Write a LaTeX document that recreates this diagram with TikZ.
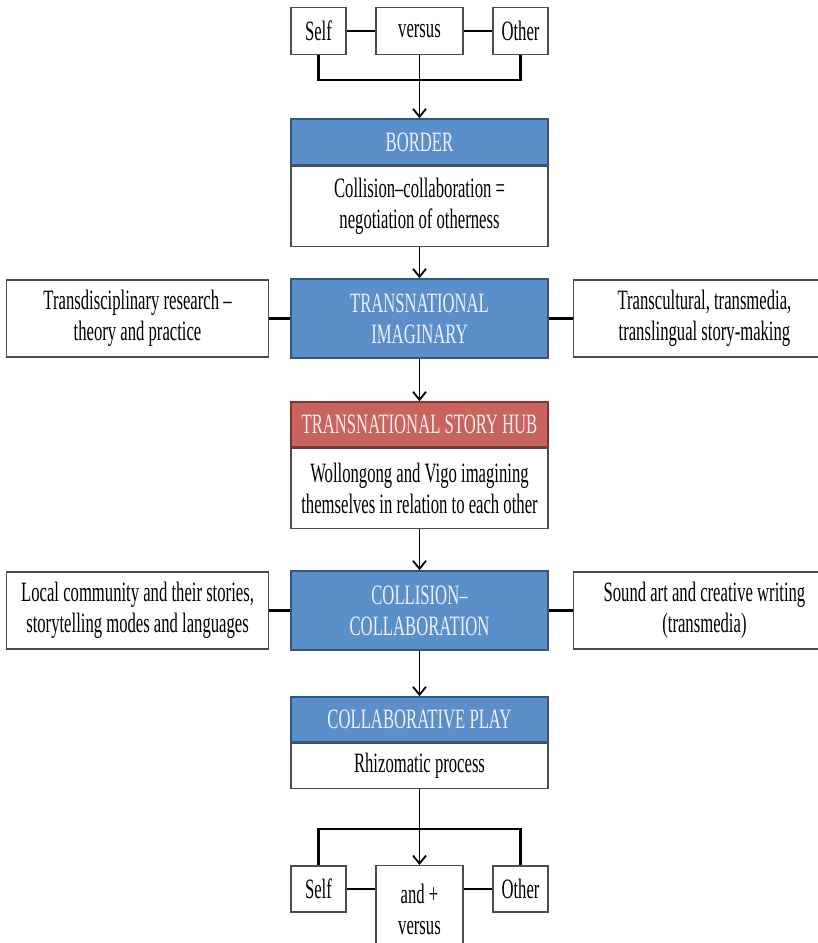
\documentclass[tikz,border=0pt]{standalone}
\usepackage{fontspec}
\setmainfont{Liberation Serif}[FakeStretch=0.595]
\usepackage{tikz}
\usetikzlibrary{shapes,arrows,arrows.meta,positioning}

\definecolor{hubblue}{RGB}{91,143,201}
\definecolor{hubblueline}{RGB}{52,86,128}
\definecolor{hubred}{RGB}{201,99,94}
\definecolor{hubredline}{RGB}{130,52,50}

\begin{document}
\begin{tikzpicture}[x=1pt,y=-1pt,
	every node/.style={font=\fontsize{28}{31}\selectfont, inner sep=0pt, align=center},
	whitebox/.style={rectangle, draw=black!70, line width=1.3pt, fill=white},
	bluehead/.style={rectangle, draw=hubblueline, line width=1.6pt, fill=hubblue, text=white!94!blue, minimum width=257pt},
	redhead/.style={rectangle, draw=hubredline, line width=1.6pt, fill=hubred, text=white!94!red, minimum width=257pt},
	sidebox/.style={whitebox, minimum width=262pt, minimum height=77pt},
	link/.style={line width=2.5pt},
	flow/.style={line width=1.8pt, -{Straight Barb[length=8pt,width=13pt]}}]
	\clip (0,0) rectangle (818,943);
	% self versus other
	\node [whitebox, minimum width=55pt, minimum height=47pt] (selftop) at (318.5,31) {Self};
	\node [whitebox, minimum width=87pt, minimum height=47pt] (versustop) at (419.5,31) {versus};
	\node [whitebox, minimum width=55pt, minimum height=47pt] (othertop) at (520.5,31) {Other};
	\coordinate (jointop) at (419.5,80);
	% border
	\node [bluehead, minimum height=46pt] (border) at (419.5,142) {BORDER};
	\node [whitebox, minimum width=257pt, minimum height=80pt, below=0pt of border] (borderbody) {Collision--collaboration =\\negotiation of otherness};
	% transnational imaginary
	\node [bluehead, minimum height=79pt] (imaginary) at (419.5,318.5) {TRANSNATIONAL\\IMAGINARY};
	\node [sidebox, left=21pt of imaginary] (research) {Transdisciplinary research --\\theory and practice};
	\node [sidebox, right=24pt of imaginary] (storymaking) {Transcultural, transmedia,\\translingual story-making};
	% story hub
	\node [redhead, minimum height=45pt] (hub) at (419.5,424.5) {TRANSNATIONAL STORY HUB};
	\node [whitebox, minimum width=257pt, minimum height=80pt, below=0pt of hub] (hubbody) {Wollongong and Vigo imagining\\themselves in relation to each other};
	% collision collaboration
	\node [bluehead, minimum height=79pt] (collision) at (419.5,610.5) {COLLISION--\\COLLABORATION};
	\node [sidebox, left=21pt of collision] (community) {Local community and their stories,\\storytelling modes and languages};
	\node [sidebox, right=24pt of collision] (soundart) {Sound art and creative writing\\(transmedia)};
	% collaborative play
	\node [bluehead, minimum height=45pt] (play) at (419.5,719.5) {COLLABORATIVE PLAY};
	\node [whitebox, minimum width=257pt, minimum height=45pt, below=0pt of play] (playbody) {Rhizomatic process};
	\coordinate (joinbottom) at (419.5,829);
	% self and + versus other
	\node [whitebox, minimum width=55pt, minimum height=46pt] (selfbottom) at (318.5,889) {Self};
	\node [whitebox, minimum width=87pt, minimum height=88pt, anchor=north] (andversus) at (419.5,865) {and +\\versus};
	\node [whitebox, minimum width=55pt, minimum height=46pt] (otherbottom) at (520.5,889) {Other};

	\draw [link] (selftop) -- (versustop);
	\draw [link] (versustop) -- (othertop);
	\draw [link] (selftop.south) |- (jointop) -| (othertop.south);
	\draw [flow] (versustop.south) -- (border.north);
	\draw [flow] (borderbody) -- (imaginary);
	\draw [link] (research) -- (imaginary);
	\draw [link] (imaginary) -- (storymaking);
	\draw [flow] (imaginary) -- (hub);
	\draw [flow] (hubbody) -- (collision);
	\draw [link] (community) -- (collision);
	\draw [link] (collision) -- (soundart);
	\draw [flow] (collision) -- (play);
	\draw [flow] (playbody) -- (andversus);
	\draw [link] (selfbottom.north) |- (joinbottom) -| (otherbottom.north);
	\draw [link] (selfbottom) -- (andversus.west |- selfbottom);
	\draw [link] (andversus.east |- otherbottom) -- (otherbottom);
\end{tikzpicture}
\end{document}
